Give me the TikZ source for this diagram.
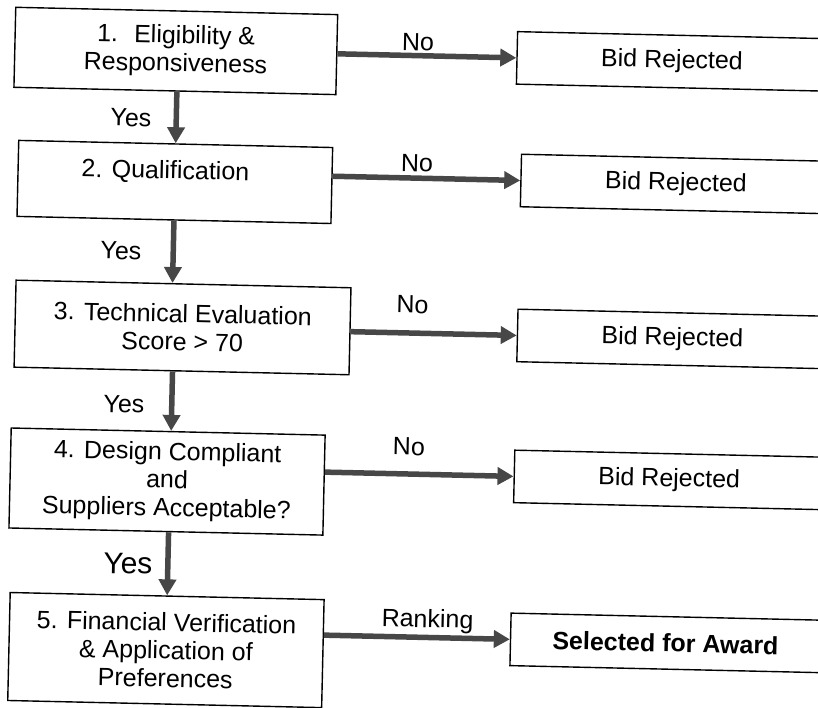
\documentclass[tikz,border=0pt]{standalone}
\usepackage{fontspec}
\setmainfont{Liberation Sans}
\usetikzlibrary{arrows.meta,calc}
\tikzset{
  box/.style={draw=black, line width=1.4pt, inner sep=0pt, align=center,
              font=\fontsize{25}{28}\selectfont},
  lbl/.style={inner sep=0pt, font=\fontsize{25}{28}\selectfont},
  biglbl/.style={inner sep=0pt, font=\fontsize{30}{34}\selectfont},
  leftbox/.style={box, minimum width=314pt},
  rightbox/.style={box, minimum width=310pt, minimum height=52.5pt},
  arr/.style={line width=5.5pt, draw=black!72,
              -{Triangle[length=16pt,width=17pt,fill=black!72]}},
}
\begin{document}
\begin{tikzpicture}[x=1pt,y=-1pt]
\useasboundingbox (0,0) rectangle (818,707);
\fill[white] (0,0) rectangle (818,707);
\clip (0,0) rectangle (818,707);
\begin{scope}[rotate around={-1.3:(409,353)}, every node/.append style={transform shape}]
  % left column
  \node[box, minimum width=322pt, minimum height=80pt] (B1) at (169,56.3)
       {1.~ Eligibility \&\\Responsiveness};
  \node[leftbox, minimum height=76pt] (B2) at (171,187.3) {};
  \node[lbl] (T2) at (161.4,177.5) {2. Qualification};
  \node[box, minimum width=335pt, minimum height=87pt] (B3) at (182,332.6)
       {3. Technical Evaluation\\Score > 70};
  \node[leftbox, minimum height=100pt] (B4) at (170,487)
       {4. Design Compliant\\and\\Suppliers Acceptable?};
  \node[leftbox, minimum height=108pt] (B5) at (172.7,655.5)
       {5. Financial Verification\\\& Application of\\Preferences};
  % right column
  \node[rightbox] (R1) at (665.3,55.5) {Bid Rejected};
  \node[rightbox] (R2) at (672,178) {Bid Rejected};
  \node[rightbox] (R3) at (672,333) {Bid Rejected};
  \node[rightbox] (R4) at (672,474) {Bid Rejected};
  \node[rightbox] (R5) at (672,637) {\bfseries Selected for Award};
  % horizontal arrows
  \draw[arr] (B1.east |- R1.west) -- (R1.west);
  \draw[arr] (B2.east |- R2.west) -- (R2.west);
  \draw[arr] (B3.east |- R3.west) -- (R3.west);
  \draw[arr] (B4.east |- R4.west) -- (R4.west);
  \draw[arr] (B5.east |- R5.west) -- (R5.west);
  \node[lbl] (N1) at (411,41.8) {No};
  \node[lbl] (N2) at (412.7,162.8) {No};
  \node[lbl] (N3) at (411.5,304.5) {No};
  \node[lbl] (N4) at (411,446.5) {No};
  \node[lbl] (N5) at (433.6,620.6) {Ranking};
  % vertical arrows
  \draw[arr] (B1.south -| B2.north) -- (B2.north);
  \draw[arr] (B2.south) -- (B2.south |- B3.north);
  \draw[arr] ($(B3.south -| B4.north)+(3,0)$) -- ($(B4.north)+(3,0)$);
  \draw[arr] (B4.south -| B5.north) -- (B5.north);
  \node[lbl] (Y1) at (125.7,124.3) {Yes};
  \node[lbl] (Y2) at (118.7,257.5) {Yes};
  \node[lbl] (Y3) at (125.2,410.5) {Yes};
  \node[biglbl] (Y4) at (132.8,569.9) {Yes};
\end{scope}
\end{tikzpicture}
\end{document}
